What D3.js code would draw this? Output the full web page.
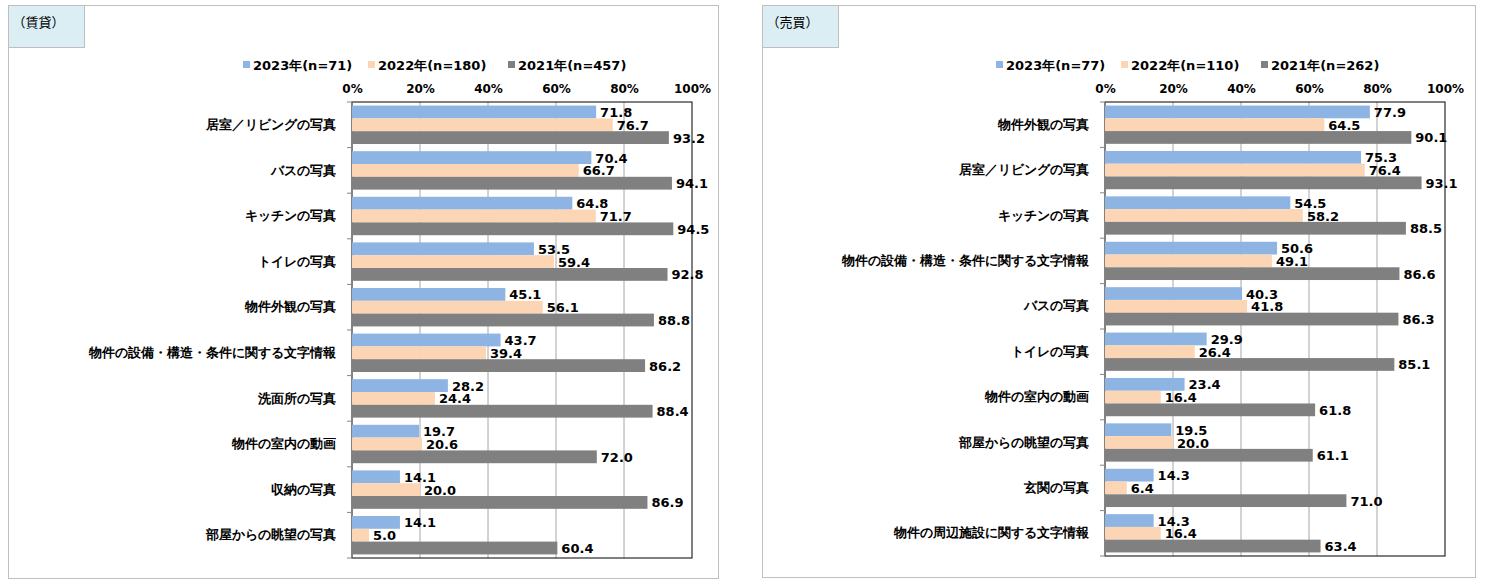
<!DOCTYPE html>
<html><head><meta charset="utf-8">
<script src="https://cdn.jsdelivr.net/npm/d3@7"></script>
<style>body{margin:0;background:#fff;font-family:"Noto Sans CJK JP","Noto Sans",sans-serif}</style>
</head><body><svg id="c" width="1491" height="584"></svg>
<script>
var series = ["2023年", "2022年", "2021年"];
var colors = ["#8db4e2", "#fcd5b5", "#808080"];
var ticks = [0, 20, 40, 60, 80, 100];

var rentTitle = "（賃貸）";
var rentN = [71, 180, 457];
var rentCats = ["居室／リビングの写真", "バスの写真", "キッチンの写真", "トイレの写真", "物件外観の写真",
  "物件の設備・構造・条件に関する文字情報", "洗面所の写真", "物件の室内の動画", "収納の写真", "部屋からの眺望の写真"];
var rent2023 = [71.8, 70.4, 64.8, 53.5, 45.1, 43.7, 28.2, 19.7, 14.1, 14.1];
var rent2022 = [76.7, 66.7, 71.7, 59.4, 56.1, 39.4, 24.4, 20.6, 20.0, 5.0];
var rent2021 = [93.2, 94.1, 94.5, 92.8, 88.8, 86.2, 88.4, 72.0, 86.9, 60.4];

var saleTitle = "（売買）";
var saleN = [77, 110, 262];
var saleCats = ["物件外観の写真", "居室／リビングの写真", "キッチンの写真", "物件の設備・構造・条件に関する文字情報",
  "バスの写真", "トイレの写真", "物件の室内の動画", "部屋からの眺望の写真", "玄関の写真", "物件の周辺施設に関する文字情報"];
var sale2023 = [77.9, 75.3, 54.5, 50.6, 40.3, 29.9, 23.4, 19.5, 14.3, 14.3];
var sale2022 = [64.5, 76.4, 58.2, 49.1, 41.8, 26.4, 16.4, 20.0, 6.4, 16.4];
var sale2021 = [90.1, 93.1, 88.5, 86.6, 86.3, 85.1, 61.8, 61.1, 71.0, 63.4];

var svg = d3.select("#c");

function panel(o) {
  var g = svg.append("g");
  g.append("rect").attr("x", o.bx).attr("y", 5.5).attr("width", o.bw).attr("height", o.bh)
    .attr("fill", "#fff").attr("stroke", "#bfbfbf");
  g.append("rect").attr("x", o.bx).attr("y", 5.5).attr("width", 76).attr("height", 42)
    .attr("fill", "#dbeef4").attr("stroke", "#bfbfbf");
  g.append("text").attr("x", o.bx + 4).attr("y", 27).attr("font-size", 13).text(o.title);

  var x = d3.scaleLinear().domain([0, 100]).range([o.x0, o.x1]);
  var y0 = d3.scaleBand().domain(o.cats).range([102, o.yb]);
  var y1 = d3.scaleBand().domain(series).range([0, y0.bandwidth()]).paddingInner(0).paddingOuter(0.28);

  g.selectAll("line.grid").data(ticks.slice(1, 5)).join("line")
    .attr("x1", x).attr("x2", x).attr("y1", 102).attr("y2", o.yb).attr("stroke", "#a6a6a6");
  g.append("rect").attr("x", o.x0).attr("y", 102).attr("width", o.x1 - o.x0).attr("height", o.yb - 102)
    .attr("fill", "none").attr("stroke", "#000").attr("stroke-width", 1);
  g.append("line").attr("x1", o.x0).attr("x2", o.x0).attr("y1", 102).attr("y2", o.yb).attr("stroke", "#868686");

  var ax = g.append("g").attr("transform", "translate(0,96)")
    .call(d3.axisTop(x).tickValues(ticks).tickFormat(function (d) { return d + "%"; }).tickSize(0));
  ax.select(".domain").remove();
  ax.selectAll("text").attr("font-size", 12).attr("font-weight", "bold").attr("font-family", "Verdana,'DejaVu Sans',sans-serif").attr("fill", "#000");

  var ay = g.append("g").attr("transform", "translate(" + o.x0 + ",0)")
    .call(d3.axisLeft(y0).tickSize(0).tickPadding(16));
  ay.select(".domain").remove();
  ay.selectAll("text").attr("font-size", 13).attr("font-weight", "bold").attr("fill", "#000");
  g.selectAll("line.yt").data(d3.range(o.cats.length + 1)).join("line")
    .attr("x1", o.x0 - 5).attr("x2", o.x0).attr("y1", function (i) { return 102 + i * y0.step(); })
    .attr("y2", function (i) { return 102 + i * y0.step(); }).attr("stroke", "#868686");

  o.vals.forEach(function (vs, si) {
    var gg = g.append("g");
    gg.selectAll("rect").data(vs).join("rect")
      .attr("x", o.x0).attr("y", function (d, i) { return y0(o.cats[i]) + y1(series[si]); })
      .attr("width", function (d) { return x(d) - o.x0; }).attr("height", y1.bandwidth())
      .attr("fill", colors[si]);
    gg.selectAll("text").data(vs).join("text")
      .attr("x", function (d) { return x(d) + 4; })
      .attr("y", function (d, i) { return y0(o.cats[i]) + y1(series[si]) + y1.bandwidth() / 2 + 5; })
      .attr("font-size", 13).attr("font-weight", "bold").attr("font-family", "Verdana,'DejaVu Sans',sans-serif")
      .text(function (d) { return d.toFixed(1); });
  });

  var lg = g.append("g").attr("transform", "translate(" + o.lx + ",66)");
  var offs = [0, 125, 265];
  series.forEach(function (s, i) {
    lg.append("rect").attr("x", offs[i]).attr("y", -5).attr("width", 7).attr("height", 7).attr("fill", colors[i]);
    lg.append("text").attr("x", offs[i] + 10).attr("y", 4).attr("font-size", 13).attr("font-weight", "bold")
      .attr("font-family", "Verdana,'DejaVu Sans',sans-serif")
      .text(s + "(n=" + o.n[i] + ")");
  });
}

panel({ bx: 8.5, bw: 710, bh: 573, title: rentTitle, x0: 352, x1: 692, yb: 558, cats: rentCats,
  vals: [rent2023, rent2022, rent2021], n: rentN, lx: 243 });
panel({ bx: 762.5, bw: 713, bh: 572, title: saleTitle, x0: 1105, x1: 1445, yb: 556, cats: saleCats,
  vals: [sale2023, sale2022, sale2021], n: saleN, lx: 996 });
</script></body></html>
